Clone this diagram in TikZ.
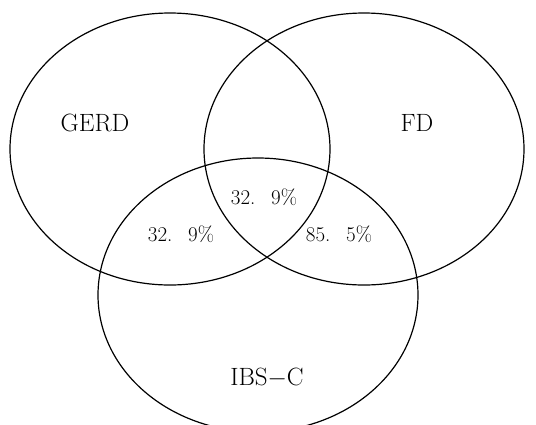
\documentclass[tikz,border=0pt]{standalone}
\begin{document}
\begin{tikzpicture}[x=1pt,y=-1pt,
  venn/.style={line width=1.2pt,black},
  lab/.style={font=\fontsize{25}{30}\selectfont,inner sep=0pt},
  pct/.style={font=\fontsize{21}{25}\selectfont,inner sep=0pt}]
\useasboundingbox (0,0) rectangle (536,424);
\clip (0,0) rectangle (536,424);
\draw[venn] (170,149) ellipse [x radius=160, y radius=136];
\draw[venn] (364,149) ellipse [x radius=160, y radius=136];
\draw[venn] (258,295) ellipse [x radius=160, y radius=137];
\node[lab] (gerd) at (95,123) {GERD};
\node[lab] (fd) at (417,123) {FD};
\node[lab] (ibs) at (267,378) {IBS$-$C};
\node[pct] (p1) at (264,197) {32.\hspace{0.75em}9\%};
\node[pct] (p2) at (181,234) {32.\hspace{0.75em}9\%};
\node[pct] (p3) at (339,234) {85.\hspace{0.75em}5\%};
\end{tikzpicture}
\end{document}
